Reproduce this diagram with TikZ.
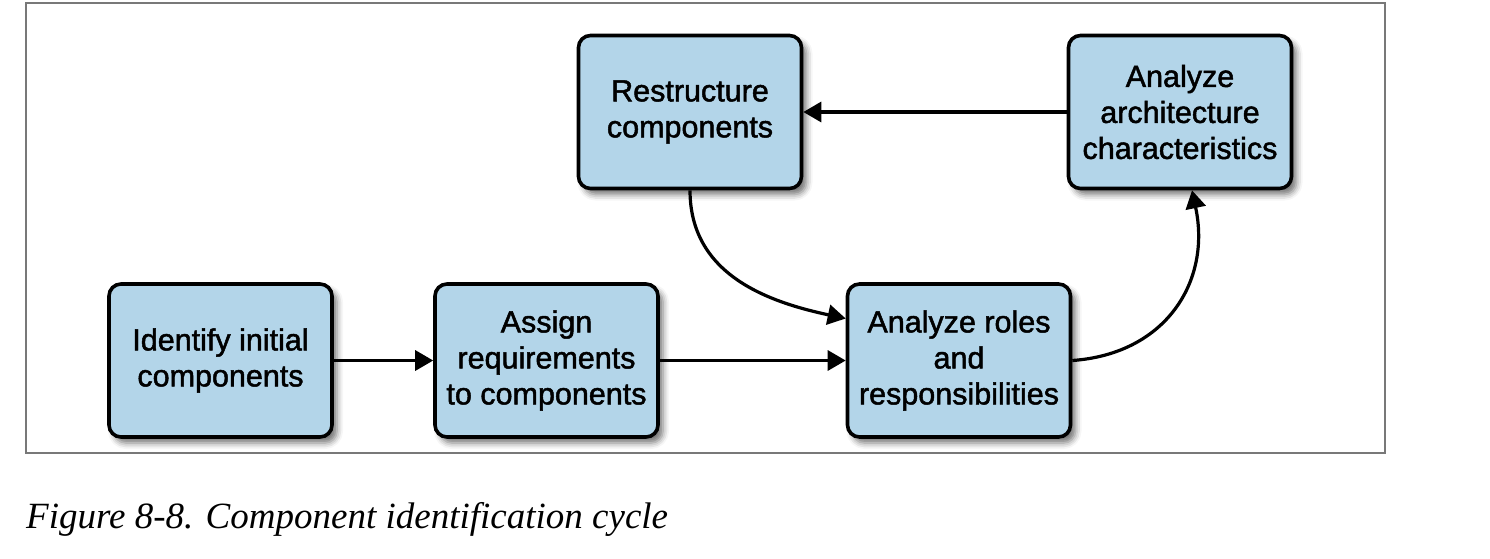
\documentclass[tikz,border=0pt]{standalone}
\usepackage{fontspec}
\setmainfont{Liberation Serif}
\newfontfamily\boxfont{Liberation Sans}[FakeBold=1.6]
\usetikzlibrary{arrows.meta,shadows.blur}
\definecolor{boxblue}{RGB}{179,213,233}
\definecolor{framegray}{RGB}{120,120,120}
\begin{document}
\begin{tikzpicture}[x=1pt,y=-1pt,
  stepbox/.style={draw=black, line width=3.6pt, fill=boxblue, rounded corners=12pt,
    minimum width=223pt, minimum height=153pt, inner sep=0pt, align=center,
    font=\boxfont\fontsize{30.5}{36}\selectfont,
    blur shadow={shadow xshift=5pt, shadow yshift=-6pt, shadow blur radius=6pt, shadow opacity=55}},
  flow/.style={line width=3.2pt, -{Triangle[length=18pt,width=20pt]}}]
  \useasboundingbox (0,0) rectangle (1490,558);
  % outer frame
  \draw[framegray, line width=2pt] (26,3) rectangle (1385,453);

  % process steps
  \node[stepbox] (ident) at (220.5,360.5) {Identify initial\\components};
  \node[stepbox] (assign) at (546.5,360.5) {Assign\\requirements\\to components};
  \node[stepbox] (roles) at (959,360.5) {Analyze roles\\and\\responsibilities};
  \node[stepbox] (restr) at (690,112) {Restructure\\components};
  \node[stepbox] (arch) at (1180,112) {Analyze\\architecture\\characteristics};

  % connectors
  \draw[flow] (ident) -- (assign);
  \draw[flow] (assign) -- (roles);
  \draw[flow] (arch) -- (restr);
  \draw[flow] (restr.south) to[out=-90, in=168, looseness=1.05] ([yshift=42pt]roles.west);
  \draw[flow] (roles.east) to[out=4, in=-78, looseness=1.15] ([xshift=12pt]arch.south);

  % caption
  \node[anchor=base west, inner sep=0pt, font=\fontsize{37}{42}\selectfont\itshape]
    (cap) at (26,528) {Figure 8-8. Component identification cycle};
\end{tikzpicture}
\end{document}
